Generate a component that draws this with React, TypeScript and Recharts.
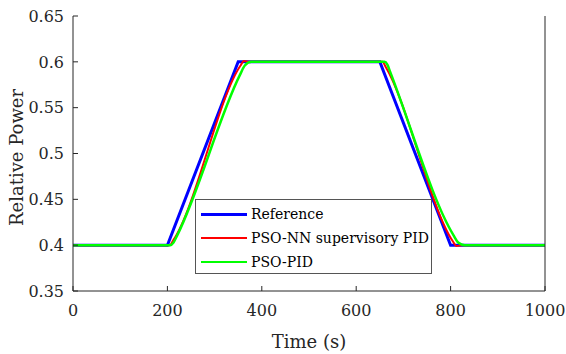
import { LineChart, Line, XAxis, YAxis } from 'recharts';

const referenceSeries = [
  { t: 0, v: 0.4 }, { t: 200, v: 0.4 }, { t: 350, v: 0.6 },
  { t: 650, v: 0.6 }, { t: 800, v: 0.4 }, { t: 1000, v: 0.4 },
];
const nnPidSeries = [
  { t: 0, v: 0.4 }, { t: 205, v: 0.4 }, { t: 212, v: 0.405 }, { t: 355, v: 0.596 },
  { t: 362, v: 0.601 }, { t: 374, v: 0.6 }, { t: 656, v: 0.6 }, { t: 662, v: 0.595 },
  { t: 805, v: 0.404 }, { t: 812, v: 0.399 }, { t: 825, v: 0.4 }, { t: 1000, v: 0.4 },
];
const psoPidSeries = [
  { t: 0, v: 0.4 }, { t: 206, v: 0.4 }, { t: 213, v: 0.403 }, { t: 221, v: 0.411 },
  { t: 354, v: 0.586 }, { t: 364, v: 0.596 }, { t: 378, v: 0.6 }, { t: 660, v: 0.6 },
  { t: 666, v: 0.597 }, { t: 672, v: 0.589 }, { t: 806, v: 0.411 }, { t: 816, v: 0.403 },
  { t: 830, v: 0.4 }, { t: 1000, v: 0.4 },
];

const xTicks = [0, 200, 400, 600, 800, 1000];
const yTicks = [0.35, 0.4, 0.45, 0.5, 0.55, 0.6, 0.65];

const legendItems = [
  { name: 'Reference', color: '#0000ff', width: 3 },
  { name: 'PSO-NN supervisory PID', color: '#ff0000', width: 2 },
  { name: 'PSO-PID', color: '#00ff00', width: 2.5 },
];

const FONT = 'DejaVu Serif';
const AXIS = '#262626';

function LegendBox() {
  return (
    <div
      style={{
        position: 'absolute',
        left: 195,
        top: 199,
        border: '1px solid #555',
        background: '#fff',
        width: 237,
        height: 75,
        boxSizing: 'border-box',
        padding: '2px 0 0 5px',
        fontFamily: FONT,
        fontSize: 14,
        color: '#000',
        whiteSpace: 'nowrap',
      }}
    >
      {legendItems.map((it) => (
        <div key={it.name} style={{ display: 'flex', alignItems: 'center', height: 24 }}>
          <div style={{ width: 46, height: it.width, background: it.color, marginRight: 4, flexShrink: 0 }} />
          <span>{it.name}</span>
        </div>
      ))}
    </div>
  );
}

export default function App() {
  return (
    <div style={{ position: 'absolute', left: 0, top: 0, width: 566, height: 354, background: '#fff' }}>
      <LineChart width={566} height={354} margin={{ top: 16, right: 0, bottom: 0, left: 0 }}>
        <XAxis
          xAxisId="bottom"
          dataKey="t"
          type="number"
          domain={[0, 1000]}
          ticks={xTicks}
          height={63}
          stroke={AXIS}
          tickSize={-5}
          tickMargin={19}
          tick={{ fill: AXIS, fontSize: 16, fontFamily: FONT }}
          allowDuplicatedCategory={false}
          label={{ value: 'Time (s)', position: 'insideBottom', offset: 6, fill: AXIS, fontSize: 18, fontFamily: FONT }}
        />
        <XAxis
          xAxisId="top"
          orientation="top"
          dataKey="t"
          type="number"
          domain={[0, 1000]}
          ticks={xTicks}
          height={0}
          stroke={AXIS}
          tickSize={-5}
          tick={false}
          allowDuplicatedCategory={false}
        />
        <YAxis
          yAxisId="left"
          type="number"
          domain={[0.35, 0.65]}
          ticks={yTicks}
          width={73}
          stroke={AXIS}
          tickSize={-5}
          tickMargin={14}
          tick={{ fill: AXIS, fontSize: 16, fontFamily: FONT }}
          tickFormatter={(v: number) => String(Number(v.toFixed(2)))}
          label={{
            content: (props: any) => {
              const vb = props.viewBox;
              const cx = 16;
              const cy = vb.y + vb.height / 2 + 4;
              return (
                <text
                  x={cx}
                  y={cy}
                  transform={`rotate(-90 ${cx} ${cy})`}
                  textAnchor="middle"
                  dominantBaseline="central"
                  fill={AXIS}
                  fontSize={18}
                  fontFamily={FONT}
                >
                  Relative Power
                </text>
              );
            },
          }}
        />
        <YAxis
          yAxisId="right"
          orientation="right"
          type="number"
          domain={[0.35, 0.65]}
          ticks={yTicks}
          width={21}
          stroke={AXIS}
          tickSize={-5}
          tick={false}
        />
        <Line
          xAxisId="bottom"
          yAxisId="left"
          data={referenceSeries}
          dataKey="v"
          name="Reference"
          type="linear"
          stroke="#0000ff"
          strokeWidth={3}
          dot={false}
          isAnimationActive={false}
        />
        <Line
          xAxisId="bottom"
          yAxisId="left"
          data={nnPidSeries}
          dataKey="v"
          name="PSO-NN supervisory PID"
          type="monotone"
          stroke="#ff0000"
          strokeWidth={2}
          dot={false}
          isAnimationActive={false}
        />
        <Line
          xAxisId="bottom"
          yAxisId="left"
          data={psoPidSeries}
          dataKey="v"
          name="PSO-PID"
          type="monotone"
          stroke="#00ff00"
          strokeWidth={2.5}
          dot={false}
          isAnimationActive={false}
        />
      </LineChart>
      <LegendBox />
    </div>
  );
}
